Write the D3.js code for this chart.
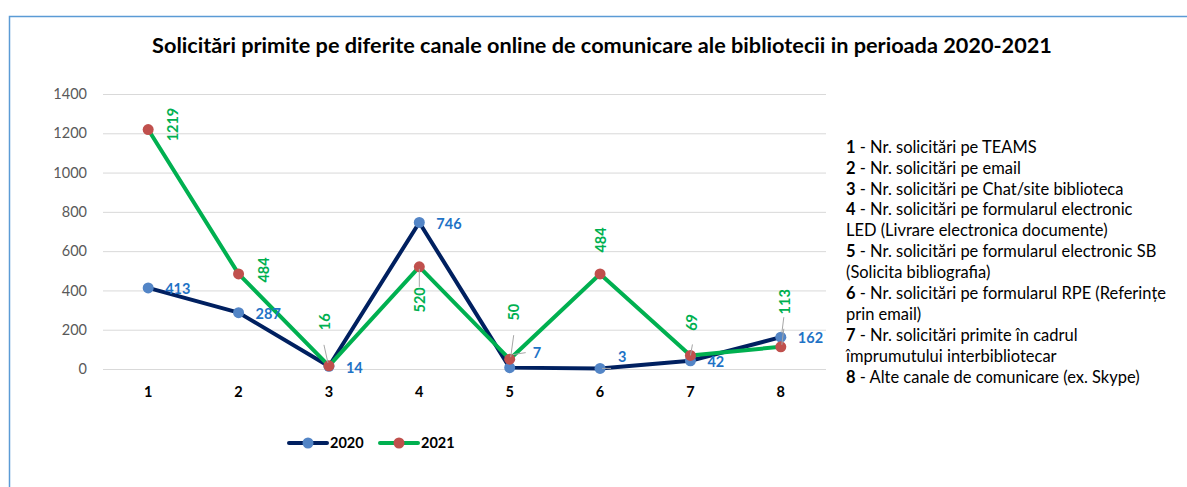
<!DOCTYPE html>
<html><head><meta charset="utf-8">
<script src="https://cdn.jsdelivr.net/npm/d3@7/dist/d3.min.js"></script>
<style>body{margin:0;background:#fff}svg{display:block}</style>
</head><body><svg id="c" width="1187" height="487"></svg>
<script>
const title = "Solicitări primite pe diferite canale online de comunicare ale bibliotecii in perioada 2020-2021";
const categories = ["1","2","3","4","5","6","7","8"];
const values2020 = [413, 287, 14, 746, 7, 3, 42, 162];
const values2021 = [1219, 484, 16, 520, 50, 484, 69, 113];
const yTicks = [0, 200, 400, 600, 800, 1000, 1200, 1400];
const seriesNames = ["2020", "2021"];
const notes = [
  ["1", " - Nr. solicitări pe TEAMS"],
  ["2", " - Nr. solicitări pe email"],
  ["3", " - Nr. solicitări pe Chat/site biblioteca"],
  ["4", "  - Nr. solicitări pe formularul electronic"],
  ["", "LED (Livrare electronica documente)"],
  ["5", " -  Nr. solicitări pe formularul electronic SB"],
  ["", "(Solicita bibliografia)"],
  ["6", " - Nr. solicitări pe formularul RPE (Referințe"],
  ["", "prin email)"],
  ["7", " - Nr. solicitări primite în cadrul"],
  ["", "împrumutului interbibliotecar"],
  ["8", " - Alte canale de comunicare (ex. Skype)"]
];
// label placement (style, not data): offsets in px relative to point
const off2020 = [[17,1],[17,1],[17,2],[17,1],[23,-15],[18,-11],[17,1],[17,1]];
const off2021 = [[25,-5],[25,-4],[-4,-44],[1,33],[4,-47],[1,-34],[1,-33],[4,-45]];
const lead2021 = [null,null,[[-5,-21],[-1,-3]],[[0,2],[0,20]],[[4,-24],[1,-2]],null,[[2,-11],[0,0]],[[3,-18],[1,-2]]];
const lead2020 = [null,null,null,null,[[3,-13],[16,-15]],[[2,0],[11,0]],null,[[1,-4],[3,-20]]];

const svg = d3.select("#c");
const font = "Lato, 'Open Sans', sans-serif";
svg.attr("font-family", font);

function fit(sel, target){
  const w = sel.node().getComputedTextLength();
  const fs = parseFloat(sel.attr("font-size"));
  return fs * target / w;
}

// border
svg.append("path").attr("d","M9.5,487 L9.5,16.5 L1187,16.5").attr("fill","none").attr("stroke","#5b9bd5").attr("stroke-width",1.5);

const x = d3.scaleBand().domain(categories).range([103, 826]);
const cx = d => x(d) + x.bandwidth()/2;
const y = d3.scaleLinear().domain([0,1400]).range([369, 94]);

const tt = svg.append("text").attr("x", 602).attr("y", 53).attr("text-anchor","middle")
  .attr("font-weight","bold").attr("font-size",18).attr("fill","#000").text(title);
tt.attr("font-size", fit(tt, 900));

// grid
const yAxis = d3.axisLeft(y).tickValues(yTicks).tickFormat(d3.format("d")).tickSize(-(826-103)).tickPadding(16);
const gy = svg.append("g").attr("transform","translate(103,0)").call(yAxis);
gy.select(".domain").remove();
gy.selectAll(".tick line").attr("stroke","#d9d9d9").attr("stroke-width",1);
gy.selectAll(".tick text").attr("font-size",14.5).attr("fill","#595959").attr("font-family",font);

const xAxis = d3.axisBottom(x).tickSize(0).tickPadding(18);
const gx = svg.append("g").attr("transform","translate(0,369)").call(xAxis);
gx.select(".domain").remove();
gx.selectAll(".tick text").attr("font-size",14.5).attr("font-weight","bold").attr("fill","#000").attr("font-family",font);

const line = d3.line().x((d,i)=>cx(categories[i])).y(d=>y(d));
const s = [
  {vals: values2020, lc:"#002060", mc:"#5385c6", tc:"#1f73c6", off: off2020, lead: lead2020, rot:false},
  {vals: values2021, lc:"#00b050", mc:"#c0504d", tc:"#00b050", off: off2021, lead: lead2021, rot:true}
];
s.forEach(ser=>{
  svg.append("path").datum(ser.vals).attr("d",line).attr("fill","none").attr("stroke",ser.lc).attr("stroke-width",4).attr("stroke-linejoin","round");
});
s.forEach(ser=>{
  svg.append("g").selectAll("circle").data(ser.vals).join("circle")
    .attr("cx",(d,i)=>cx(categories[i])).attr("cy",d=>y(d)).attr("r",5.5).attr("fill",ser.mc);
});
// leader lines
s.forEach(ser=>{
  ser.vals.forEach((v,i)=>{
    const l = ser.lead[i]; if(!l) return;
    const px = cx(categories[i]), py = y(v);
    svg.append("line").attr("x1",px+l[0][0]).attr("y1",py+l[0][1]).attr("x2",px+l[1][0]).attr("y2",py+l[1][1])
      .attr("stroke","#a6a6a6").attr("stroke-width",1);
  });
});
// labels
s.forEach(ser=>{
  ser.vals.forEach((v,i)=>{
    const px = cx(categories[i]) + ser.off[i][0], py = y(v) + ser.off[i][1];
    const t = svg.append("text").attr("font-size",14.5).attr("font-weight","bold").attr("fill",ser.tc).text(v);
    if(ser.rot){
      t.attr("transform",`translate(${px},${py}) rotate(-90)`).attr("text-anchor","middle").attr("dy","0.35em");
    } else {
      t.attr("x",px).attr("y",py).attr("dy","0.35em").attr("text-anchor","start");
    }
  });
});

// series legend
const leg = [{n:seriesNames[0], x:289, lc:"#002060", mc:"#5385c6"},{n:seriesNames[1], x:380, lc:"#00b050", mc:"#c0504d"}];
leg.forEach(l=>{
  svg.append("line").attr("x1",l.x).attr("x2",l.x+38).attr("y1",443).attr("y2",443).attr("stroke",l.lc).attr("stroke-width",4).attr("stroke-linecap","round");
  svg.append("circle").attr("cx",l.x+19).attr("cy",443).attr("r",5.5).attr("fill",l.mc);
  svg.append("text").attr("x",l.x+41).attr("y",443).attr("dy","0.35em").attr("font-size",14.5).attr("font-weight","bold").text(l.n);
});

// notes
const ng = svg.append("g");
const noteTexts = [];
notes.forEach((n,i)=>{
  const t = ng.append("text").attr("x",846).attr("y",147 + i*20.9).attr("dy","0.35em").attr("font-size",14).attr("fill","#000");
  if(n[0]) t.append("tspan").attr("font-weight","bold").text(n[0]);
  t.append("tspan").text(n[1]);
  noteTexts.push(t);
});
const nfs = fit(noteTexts[11], 294);
noteTexts.forEach(t=>t.attr("font-size", nfs));
</script></body></html>
